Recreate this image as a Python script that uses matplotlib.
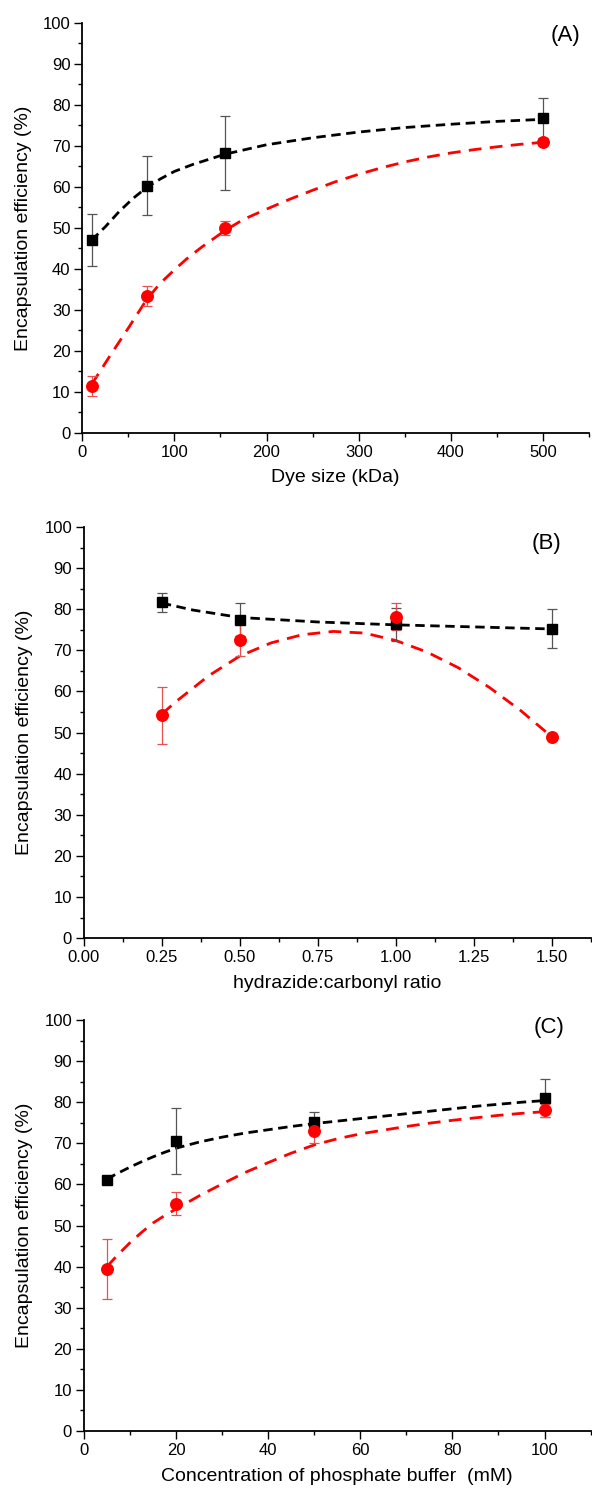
import numpy as np
import matplotlib.pyplot as plt
from matplotlib.ticker import MultipleLocator

plt.rcParams['font.family'] = ['Liberation Sans', 'DejaVu Sans']

##########################################
######### data

# (A) dye size
a_x = [10, 70, 155, 500]
a_black = [47.0, 60.3, 68.3, 76.8]
a_black_err = [6.3, 7.2, 9.0, 4.8]
a_red = [11.5, 33.4, 50.0, 71.0]
a_red_err = [2.5, 2.5, 1.8, 0.5]
a_fit_x = [10, 25, 40, 55, 70, 85, 100, 120, 155, 200, 250, 300, 350, 400, 450, 500]
a_fit_black = [47.0, 50.3, 54.0, 57.2, 59.9, 62.0, 63.8, 65.5, 68.0, 70.3, 72.0, 73.4, 74.5, 75.3, 76.0, 76.5]
a_fit_red_x = [10, 20, 30, 40, 50, 70, 85, 100, 115, 130, 155, 175, 200, 225, 250, 275, 300,
               325, 350, 375, 400, 425, 450, 475, 500]
a_fit_red = [11.8, 15.3, 18.8, 22.2, 25.6, 32.6, 36.6, 39.8, 42.8, 45.4, 49.4, 52.1, 54.6, 57.0,
             59.2, 61.3, 63.1, 64.7, 66.1, 67.3, 68.3, 69.1, 69.8, 70.4, 70.9]

# (B) hydrazide:carbonyl ratio
b_x = [0.25, 0.5, 1.0, 1.5]
b_black = [81.7, 77.5, 76.3, 75.3]
b_black_err = [2.3, 4.0, 4.0, 4.8]
b_red = [54.2, 72.6, 78.2, 49.0]
b_red_err = [6.9, 4.0, 3.2, 0.5]
b_fit_x = [0.25, 0.35, 0.5, 0.75, 1.0, 1.25, 1.5]
b_fit_black = [81.5, 79.8, 78.0, 76.9, 76.2, 75.7, 75.2]
b_fit_red_x = [0.25, 0.3, 0.4, 0.5, 0.6, 0.7, 0.8, 0.9, 1.0, 1.1, 1.2, 1.3, 1.4, 1.5]
b_fit_red = [54.5, 57.8, 63.8, 68.6, 71.8, 73.8, 74.6, 74.2, 72.4, 69.6, 65.8, 61.0, 55.4, 49.0]

# (C) phosphate buffer concentration
c_x = [5, 20, 50, 100]
c_black = [61.0, 70.6, 75.3, 81.0]
c_black_err = [0.5, 8.0, 2.2, 4.7]
c_red = [39.4, 55.3, 73.0, 78.0]
c_red_err = [7.3, 2.8, 3.0, 1.5]
c_fit_x = [5, 7.5, 10, 12.5, 15, 17.5, 20, 25, 30, 35, 40, 45, 50, 55, 60, 65, 70, 75, 80, 85, 90, 95, 100]
c_fit_black = [61.3, 62.8, 64.2, 65.5, 66.7, 67.8, 68.8, 70.3, 71.5, 72.5, 73.3, 74.1, 74.8,
               75.4, 76.0, 76.6, 77.2, 77.8, 78.4, 79.0, 79.5, 80.0, 80.4]
c_fit_red = [40.0, 43.0, 45.8, 48.3, 50.6, 52.4, 54.0, 57.2, 60.1, 62.9, 65.3, 67.6, 69.6,
             71.1, 72.3, 73.2, 74.1, 74.9, 75.6, 76.2, 76.8, 77.3, 77.7]

panels = [
    dict(x=a_x, k=a_black, ke=a_black_err, r=a_red, re=a_red_err,
         fxk=a_fit_x, fk=a_fit_black, fxr=a_fit_red_x, fr=a_fit_red,
         xlim=(0, 550), major=100, minor=50, fmt="{:.0f}",
         xlabel="Dye size (kDa)", tag="(A)", tagpos=(0.982, 0.995),
         rect=[0.139, 0.710, 0.856, 0.2746]),
    dict(x=b_x, k=b_black, ke=b_black_err, r=b_red, re=b_red_err,
         fxk=b_fit_x, fk=b_fit_black, fxr=b_fit_red_x, fr=b_fit_red,
         xlim=(0, 1.625), major=0.25, minor=0.125, fmt="{:.2f}",
         xlabel="hydrazide:carbonyl ratio", tag="(B)", tagpos=(0.943, 0.986),
         rect=[0.1416, 0.3717, 0.856, 0.2753]),
    dict(x=c_x, k=c_black, ke=c_black_err, r=c_red, re=c_red_err,
         fxk=c_fit_x, fk=c_fit_black, fxr=c_fit_x, fr=c_fit_red,
         xlim=(0, 110), major=20, minor=10, fmt="{:.0f}",
         xlabel="Concentration of phosphate buffer  (mM)", tag="(C)", tagpos=(0.949, 1.007),
         rect=[0.1416, 0.0415, 0.856, 0.2753]),
]

fig = plt.figure(figsize=(5.92, 14.93), dpi=100)

for p in panels:
    ax = fig.add_axes(p['rect'])
    ax.plot(p['fxk'], p['fk'], color='black', lw=2.0, linestyle=(0, (3.4, 2.0)), zorder=2)
    ax.plot(p['fxr'], p['fr'], color='#ff0000', lw=2.0, linestyle=(0, (4.6, 3.0)), zorder=2)
    ax.errorbar(p['x'], p['k'], yerr=p['ke'], fmt='s', color='black', ms=7.8,
                ecolor='#555555', elinewidth=0.9, capsize=3.5, capthick=0.9, zorder=3)
    ax.errorbar(p['x'], p['r'], yerr=p['re'], fmt='o', color='#ff0000', ms=8.3,
                ecolor='#e85050', elinewidth=0.9, capsize=3.5, capthick=0.9, zorder=3)

    ax.set_xlim(*p['xlim'])
    ax.set_ylim(0, 100)
    ax.xaxis.set_minor_locator(MultipleLocator(p['minor']))
    ax.yaxis.set_major_locator(MultipleLocator(10))
    ax.yaxis.set_minor_locator(MultipleLocator(5))
    ticks = [t for t in np.arange(0, p['xlim'][1] + 1e-9, p['major'])]
    ax.set_xticks(ticks)
    ax.set_xticklabels([p['fmt'].format(t) for t in ticks])

    ax.spines['top'].set_visible(False)
    ax.spines['right'].set_visible(False)
    ax.spines['left'].set_linewidth(1.3)
    ax.spines['bottom'].set_linewidth(1.3)
    ax.tick_params(which='major', direction='out', length=5.5, width=1.0, labelsize=12, pad=3)
    ax.tick_params(which='minor', direction='out', length=3, width=1.0)

    ax.set_xlabel(p['xlabel'], fontsize=14, labelpad=7)
    ax.set_ylabel("Encapsulation efficiency (%)", fontsize=14, labelpad=8)
    ax.text(p['tagpos'][0], p['tagpos'][1], p['tag'], transform=ax.transAxes,
            ha='right', va='top', fontsize=16)

fig.savefig("out.png", dpi=100)
